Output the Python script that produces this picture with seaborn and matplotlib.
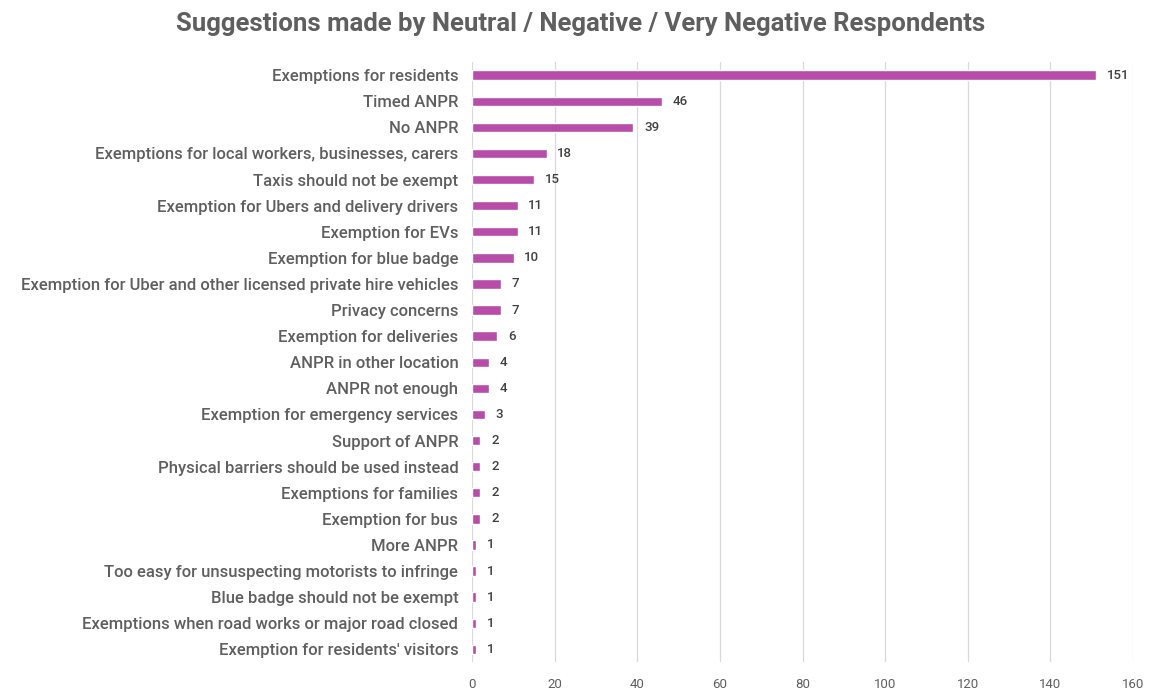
import matplotlib
matplotlib.use("Agg")
import matplotlib.pyplot as plt
import seaborn as sns
import pandas as pd

categories = [
    "Exemptions for residents",
    "Timed ANPR",
    "No ANPR",
    "Exemptions for local workers, businesses, carers",
    "Taxis should not be exempt",
    "Exemption for Ubers and delivery drivers",
    "Exemption for EVs",
    "Exemption for blue badge",
    "Exemption for Uber and other licensed private hire vehicles",
    "Privacy concerns",
    "Exemption for deliveries",
    "ANPR in other location",
    "ANPR not enough",
    "Exemption for emergency services",
    "Support of ANPR",
    "Physical barriers should be used instead",
    "Exemptions for families",
    "Exemption for bus",
    "More ANPR",
    "Too easy for unsuspecting motorists to infringe",
    "Blue badge should not be exempt",
    "Exemptions when road works or major road closed",
    "Exemption for residents' visitors",
]
counts = [151, 46, 39, 18, 15, 11, 11, 10, 7, 7, 6, 4, 4, 3, 2, 2, 2, 2, 1, 1, 1, 1, 1]
x_ticks = [0, 20, 40, 60, 80, 100, 120, 140, 160]

df = pd.DataFrame({"suggestion": categories, "count": counts})

sns.set_theme(style="white")
plt.rcParams["font.family"] = ["Roboto", "DejaVu Sans"]

text_grey = "#5f5f5f"
bar_color = "#b84ca9"

fig = plt.figure(figsize=(11.49, 6.9), dpi=100)
ax = fig.add_axes([0.411, 0.040, 0.575, 0.870])

sns.barplot(data=df, x="count", y="suggestion", color=bar_color,
            width=0.36, saturation=1, ax=ax)

for i, v in enumerate(counts):
    ax.text(v + 2.6, i, str(v), va="center", ha="left",
            fontsize=9.5, fontweight="medium", color="#404040")

ax.set_xlim(0, 160)
ax.set_ylim(len(categories) - 0.5, -0.5)
ax.set_xticks(x_ticks)
ax.xaxis.grid(True, color="#d9d9d9", linewidth=0.9)
ax.set_axisbelow(True)
for s in ax.spines.values():
    s.set_visible(False)
ax.set_xlabel("")
ax.set_ylabel("")
ax.tick_params(axis="x", length=0, pad=11, labelsize=9.5, labelcolor=text_grey)
ax.tick_params(axis="y", length=0, pad=10, labelsize=12, labelcolor=text_grey)
for lbl in ax.get_yticklabels():
    lbl.set_fontweight("medium")

fig.suptitle("Suggestions made by Neutral / Negative / Very Negative Respondents",
             x=0.505, y=0.982, fontsize=18.5, fontweight="bold", color=text_grey)

fig.savefig("out.png", dpi=100)
